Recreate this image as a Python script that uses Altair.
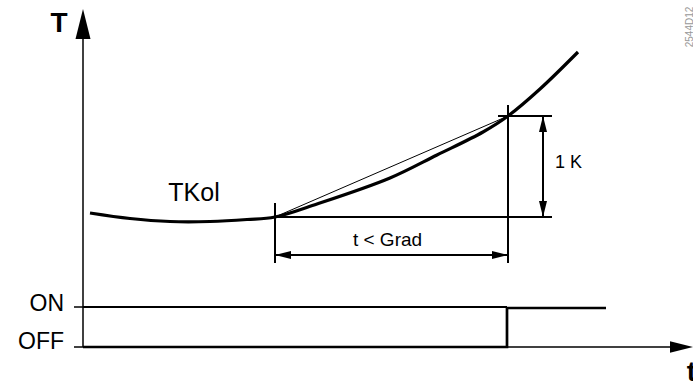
import altair as alt
import pandas as pd

# Diagram units: origin where the time axis meets the temperature axis.
T_DOMAIN = [-83, 610]
Y_DOMAIN = [-36, 347]

# Collector temperature curve TKol
curve_t = [7, 47, 87, 127, 164, 192, 234, 307, 354, 400, 425, 457, 495]
curve_T = [134, 128.5, 125.5, 125.5, 127.5, 130, 143, 169, 192, 215, 231, 258, 295]

# Pump state (OFF -> ON after the gradient condition is met)
state_t = [0, 424, 424, 523]
state_T = [0, 0, 39, 39]

# Straight segments: axes, level references, extension and dimension lines
seg_t1 = [0, 0, 0, -9, -9, 192, 425, 192, 415, 460, 192, 192]
seg_T1 = [0, 0, 40, 40, 0, 84, 84, 130, 231, 130, 92, 130]
seg_t2 = [0, 588, 424, 0, 0, 192, 425, 469, 469, 460, 425, 425]
seg_T2 = [310, 0, 40, 40, 0, 144, 242, 130, 231, 231, 92, 231]
seg_w = [1.5, 1.5, 2, 1.5, 1.5, 2, 2, 2, 2, 2, 2, 1]

# Arrowheads: tip position, direction (degrees clockwise from up), length
arrow_t = [0, 610, 460, 460, 192, 425]
arrow_T = [338, 0, 231, 130, 92, 92]
arrow_dir = [0, 90, 0, 180, 270, 90]
arrow_len = [30, 23, 16, 16, 16, 16]

ARROW_PATH = "M0,0L0.5,2L-0.5,2Z"

x_scale = alt.Scale(domain=T_DOMAIN, nice=False, zero=False)
y_scale = alt.Scale(domain=Y_DOMAIN, nice=False, zero=False)

def X(field="t"):
    return alt.X(f"{field}:Q", scale=x_scale, axis=None)

def Y(field="T"):
    return alt.Y(f"{field}:Q", scale=y_scale, axis=None)

segments = pd.DataFrame({"t": seg_t1, "T": seg_T1, "t2": seg_t2, "T2": seg_T2, "w": seg_w})
rules = alt.Chart(segments).mark_rule(color="black").encode(
    x=X(), y=Y(), x2="t2:Q", y2="T2:Q",
    strokeWidth=alt.StrokeWidth("w:Q", scale=None),
)

curve_df = pd.DataFrame({"t": curve_t, "T": curve_T})
curve = alt.Chart(curve_df).mark_line(
    color="black", strokeWidth=3.2, interpolate="catmull-rom"
).encode(x=X(), y=Y(), order="t:Q")

state_df = pd.DataFrame({"t": state_t, "T": state_T, "i": list(range(len(state_t)))})
state = alt.Chart(state_df).mark_line(color="black", strokeWidth=2.7).encode(
    x=X(), y=Y(), order="i:Q"
)

arrows_df = pd.DataFrame({
    "t": arrow_t, "T": arrow_T, "dir": arrow_dir,
    "area": [v * v for v in arrow_len],
})
arrows = alt.Chart(arrows_df).mark_point(
    shape=ARROW_PATH, filled=True, fill="black", stroke=None, opacity=1
).encode(
    x=X(), y=Y(),
    angle=alt.Angle("dir:Q", scale=None),
    size=alt.Size("area:Q", scale=None),
)

def label(text, t, T, size, align="center", baseline="middle", bold=False,
          color="black", angle=0):
    df = pd.DataFrame({"t": [t], "T": [T], "s": [text]})
    kw = dict(align=align, baseline=baseline, fontSize=size,
              font="Liberation Sans", color=color,
              fontWeight="bold" if bold else "normal")
    if angle:
        kw["angle"] = angle
    return alt.Chart(df).mark_text(**kw).encode(x=X(), y=Y(), text="s:N")

labels = [
    label("T", -24, 323, 28, bold=True),
    label("t", 608.5, -34, 28, baseline="alphabetic", bold=True),
    label("TKol", 111, 153.7, 25),
    label("t < Grad", 304.5, 107, 19),
    label("1 K", 472, 183.7, 18, align="left"),
    label("ON", -19, 43, 23, align="right"),
    label("OFF", -19, 5, 23, align="right"),
    label("2544D12", 607, 320, 10, color="#999999", angle=270),
]

chart = alt.layer(rules, curve, state, arrows, *labels).properties(
    width=693, height=383, padding=0, autosize="none", background="white"
).configure_view(stroke=None)

chart.save("out.html", embed_options={"renderer": "svg", "actions": False})
